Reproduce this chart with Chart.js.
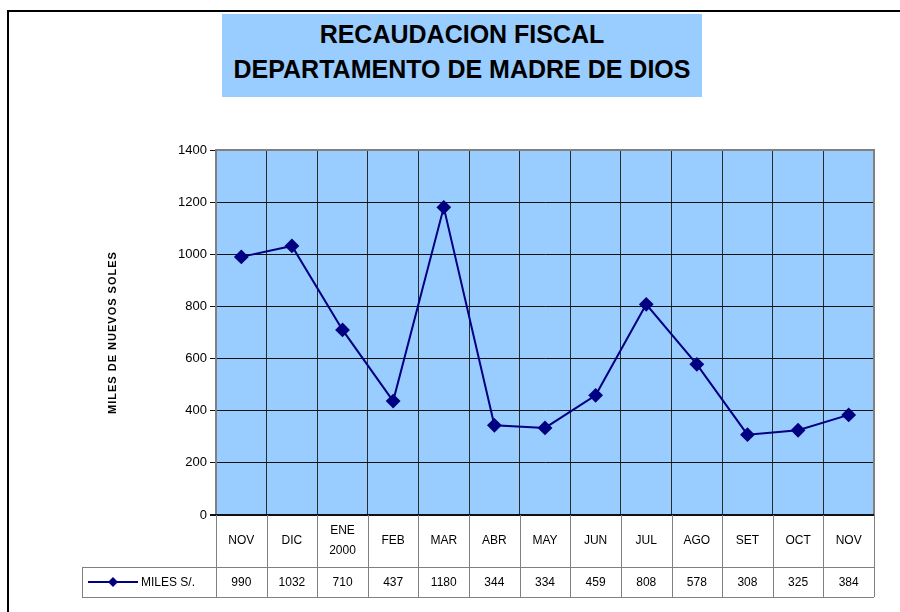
<!DOCTYPE html>
<html>
<head>
<meta charset="utf-8">
<script src="https://cdn.jsdelivr.net/npm/chart.js@4.4.0/dist/chart.umd.min.js"></script>
<style>
  body { margin: 0; background: #fff; }
  #wrap { position: relative; width: 900px; height: 612px; }
  #title {
    position: absolute; left: 222px; top: 14px; width: 480px; height: 83px;
    background: #99ccff; text-align: center; box-sizing: border-box; padding-top: 3px;
    font: bold 25px "Liberation Sans", Arial, sans-serif; line-height: 35px; color: #000;
  }
  canvas { position: absolute; left: 0; top: 0; }
</style>
</head>
<body>
<div id="wrap">
  <canvas id="chart" width="900" height="612"></canvas>
  <div id="title">RECAUDACION FISCAL<br>DEPARTAMENTO DE MADRE DE DIOS</div>
</div>
<script>
const categories = [['NOV'], ['DIC'], ['ENE', '2000'], ['FEB'], ['MAR'], ['ABR'], ['MAY'], ['JUN'], ['JUL'], ['AGO'], ['SET'], ['OCT'], ['NOV']];
const values = [990, 1032, 710, 437, 1180, 344, 334, 459, 808, 578, 308, 325, 384];
const seriesName = 'MILES S/.';
const yAxisTitle = 'MILES DE NUEVOS SOLES';
const yMax = 1400;
const yStep = 200;

const FONT = '"Liberation Sans", Arial, sans-serif';
const NAVY = '#000080';

// background, frame and the data table under the plot
const framePlugin = {
  id: 'frame',
  beforeDraw(chart) {
    const { ctx, chartArea: a } = chart;
    ctx.save();
    ctx.fillStyle = '#99ccff';
    ctx.fillRect(a.left, a.top, a.right - a.left, a.bottom - a.top);
    // outer border
    ctx.strokeStyle = '#000';
    ctx.lineWidth = 2;
    ctx.beginPath();
    ctx.moveTo(900, 11); ctx.lineTo(8, 11); ctx.lineTo(8, 612);
    ctx.stroke();
    ctx.restore();
  },
  beforeDatasetsDraw(chart) {
    const { ctx, chartArea: a } = chart;
    ctx.save();
    ctx.strokeStyle = '#808080';
    ctx.lineWidth = 2;
    ctx.beginPath();
    ctx.moveTo(a.left, a.top); ctx.lineTo(a.right, a.top); ctx.lineTo(a.right, a.bottom);
    ctx.stroke();
    ctx.strokeStyle = '#111';
    ctx.lineWidth = 2;
    ctx.beginPath();
    ctx.moveTo(a.left - 6, a.bottom); ctx.lineTo(a.right, a.bottom);
    ctx.stroke();
    ctx.restore();
  },
  afterDraw(chart) {
    const { ctx, chartArea: a } = chart;
    const xs = chart.scales.x;
    const n = categories.length;
    const colW = (a.right - a.left) / n;
    const catTop = a.bottom, catBot = a.bottom + 52;
    const rowTop = catBot, rowBot = catBot + 30;
    const keyLeft = 82;

    ctx.save();
    ctx.strokeStyle = '#808080';
    ctx.lineWidth = 1;
    ctx.beginPath();
    for (let i = 0; i <= n; i++) {
      const bx = Math.round(xs.getPixelForValue(0) - colW / 2 + i * colW) + 0.5;
      ctx.moveTo(bx, catTop); ctx.lineTo(bx, rowBot);
    }
    ctx.moveTo(keyLeft + 0.5, rowTop); ctx.lineTo(keyLeft + 0.5, rowBot);
    ctx.moveTo(keyLeft, rowTop + 0.5); ctx.lineTo(a.right, rowTop + 0.5);
    ctx.moveTo(keyLeft, rowBot + 0.5); ctx.lineTo(a.right, rowBot + 0.5);
    ctx.stroke();

    ctx.fillStyle = '#000';
    ctx.font = '12px ' + FONT;
    ctx.textAlign = 'center';
    ctx.textBaseline = 'middle';
    categories.forEach((lab, i) => {
      const cx = xs.getPixelForValue(i);
      const mid = (catTop + catBot) / 2;
      const lh = 20;
      lab.forEach((t, j) => {
        ctx.fillText(t, cx, mid + (j - (lab.length - 1) / 2) * lh);
      });
      ctx.fillText(String(values[i]), cx, (rowTop + rowBot) / 2 + 1);
    });

    // legend key
    const ky = (rowTop + rowBot) / 2;
    ctx.strokeStyle = NAVY;
    ctx.lineWidth = 2;
    ctx.beginPath();
    ctx.moveTo(88, ky); ctx.lineTo(138, ky);
    ctx.stroke();
    ctx.fillStyle = NAVY;
    ctx.beginPath();
    ctx.moveTo(113, ky - 5); ctx.lineTo(118, ky); ctx.lineTo(113, ky + 5); ctx.lineTo(108, ky);
    ctx.closePath();
    ctx.fill();
    ctx.fillStyle = '#000';
    ctx.textAlign = 'left';
    ctx.fillText(seriesName, 141, ky + 1);

    // y axis title
    ctx.translate(113, (a.top + a.bottom) / 2);
    ctx.rotate(-Math.PI / 2);
    ctx.font = 'bold 11px ' + FONT;
    ctx.letterSpacing = '1px';
    ctx.textAlign = 'center';
    ctx.fillText(yAxisTitle, 0, 0);
    ctx.restore();
  }
};

new Chart(document.getElementById('chart').getContext('2d'), {
  type: 'line',
  data: {
    labels: categories,
    datasets: [{
      label: seriesName,
      data: values,
      borderColor: NAVY,
      backgroundColor: NAVY,
      borderWidth: 2,
      pointStyle: 'rectRot',
      pointRadius: 6,
      pointHoverRadius: 6,
      tension: 0
    }]
  },
  options: {
    responsive: false,
    animation: false,
    layout: { padding: { left: 176, right: 26, top: 150, bottom: 97 } },
    plugins: {
      legend: { display: false },
      tooltip: { enabled: false }
    },
    scales: {
      x: {
        offset: true,
        grid: { offset: true, color: '#2a2a2a', drawTicks: false },
        border: { display: false },
        ticks: { display: false },
        afterFit(scale) { scale.height = 0; }
      },
      y: {
        min: 0,
        max: yMax,
        ticks: {
          stepSize: yStep, color: '#000', font: { family: FONT, size: 13 }, padding: 3,
          callback: (v) => String(v)
        },
        grid: { color: '#111', tickLength: 6 },
        border: { display: true, color: '#808080', width: 2 },
        afterFit(scale) { scale.width = 40; }
      }
    }
  },
  plugins: [framePlugin]
});
</script>
</body>
</html>
